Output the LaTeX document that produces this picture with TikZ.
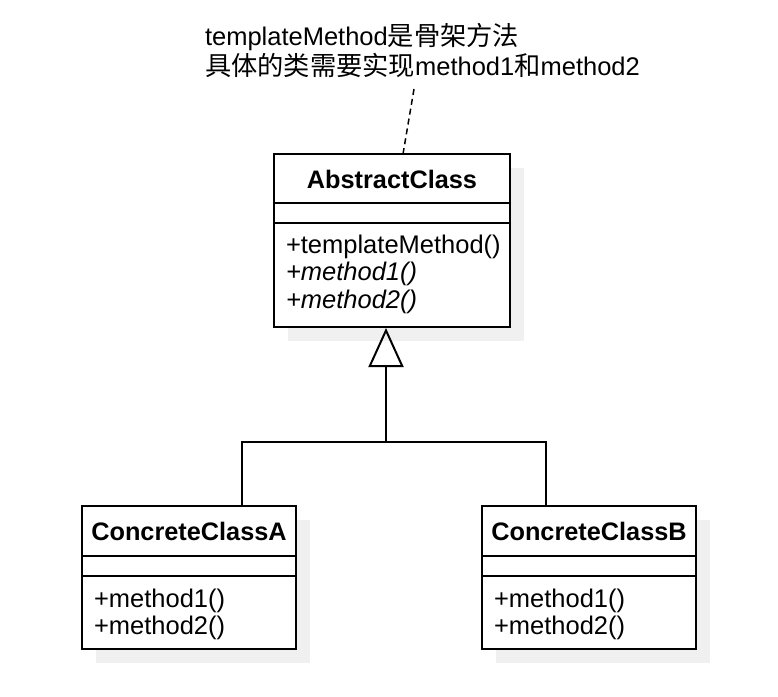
\documentclass[tikz,border=0pt]{standalone}
\usepackage{fontspec}
\setmainfont{Liberation Sans}
\newfontfamily\cjk[Scale=1.03]{Noto Sans CJK SC}
\usetikzlibrary{arrows.meta}
\definecolor{shadowc}{HTML}{F0F0F0}
\begin{document}
\begin{tikzpicture}[x=1pt,y=-1pt,line width=2pt,
  every node/.style={font=\fontsize{25.5}{28}\selectfont, inner sep=0pt},
  classbox/.style={draw, rectangle, fill=white, line width=2pt},
  shadowbox/.style={fill=shadowc, draw=none},
  divider/.style={draw, line width=2pt},
  member/.style={anchor=base west},
  title/.style={anchor=base, font=\fontsize{25.3}{28}\selectfont\bfseries},
  notelink/.style={draw, line width=1.5pt, dash pattern=on 6pt off 4pt},
  inherit/.style={draw, line width=2pt, -{Triangle[open, length=39pt, width=35pt, line width=2pt]}}
]
\useasboundingbox (0,0) rectangle (778,696);
% shadows
\fill[shadowbox] (288,168) rectangle (524,341);
\fill[shadowbox] (96,520) rectangle (310,663);
\fill[shadowbox] (496,520) rectangle (710,663);
% note
\node[anchor=base west] (note1) at (204,45) {templateMethod{\cjk 是骨架方法}};
\node[anchor=base west] (note2) at (204,75) {{\cjk 具体的类需要实现}method1{\cjk 和}method2};
% AbstractClass
\node[classbox, minimum width=236pt, minimum height=173pt] (absA) at (392,240.5) {};
\draw[divider] (274,203) -- (510,203);
\draw[divider] (274,223) -- (510,223);
\node[title] (absAt) at (392,188.5) {AbstractClass};
\node[member] (absAm0) at (285,253) {+templateMethod()};
\node[member] (absAm1) at (285,280.5) {\itshape +method1()};
\node[member] (absAm2) at (285,308) {\itshape +method2()};
% ConcreteClassA
\node[classbox, minimum width=214pt, minimum height=143pt] (cA) at (189,577.5) {};
\draw[divider] (82,556) -- (296,556);
\draw[divider] (82,576) -- (296,576);
\node[title] (cAt) at (189,540) {ConcreteClassA};
\node[member] (cAm1) at (93,607) {+method1()};
\node[member] (cAm2) at (93,634.5) {+method2()};
% ConcreteClassB
\node[classbox, minimum width=214pt, minimum height=143pt] (cB) at (589,577.5) {};
\draw[divider] (482,556) -- (696,556);
\draw[divider] (482,576) -- (696,576);
\node[title] (cBt) at (589,540) {ConcreteClassB};
\node[member] (cBm1) at (493,607) {+method1()};
\node[member] (cBm2) at (493,634.5) {+method2()};
% note link
\coordinate (ntop) at (414,89);
\coordinate (nbot) at (403,154);
\draw[notelink] (ntop) -- (nbot);
% inheritance
\coordinate (j) at (386,442);
\draw ([xshift=53pt]cA.north) |- (j) -| ([xshift=-43pt]cB.north);
\draw[inherit] (j) -- (j |- absA.south);
\end{tikzpicture}
\end{document}
